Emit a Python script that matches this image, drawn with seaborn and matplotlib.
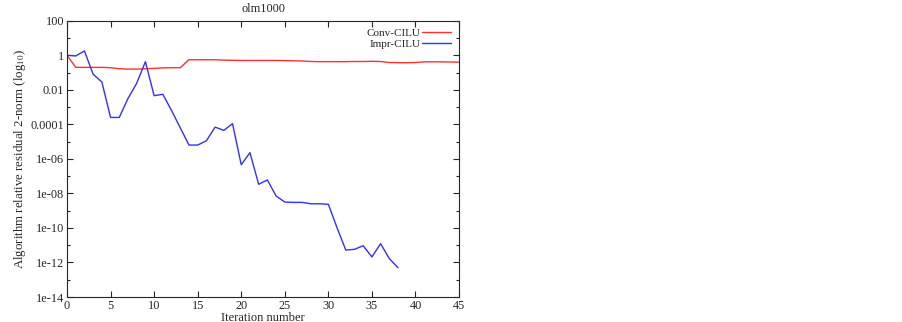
import matplotlib
matplotlib.use("Agg")
import matplotlib.pyplot as plt
import seaborn as sns
import pandas as pd
import numpy as np
from matplotlib.ticker import FixedLocator, FixedFormatter, NullFormatter

# log10 of the relative residual
iters_conv = list(range(0, 46))
conv_log = [0.0, -0.70, -0.70, -0.70, -0.70, -0.72, -0.78, -0.80, -0.80, -0.78,
            -0.76, -0.73, -0.72, -0.72, -0.26, -0.26, -0.26, -0.26, -0.28, -0.29,
            -0.30, -0.30, -0.30, -0.30, -0.30, -0.31, -0.32, -0.33, -0.36, -0.37,
            -0.37, -0.37, -0.37, -0.36, -0.36, -0.35, -0.36, -0.42, -0.43, -0.43,
            -0.42, -0.38, -0.38, -0.38, -0.39, -0.40]

iters_impr = list(range(0, 39))
impr_log = [0.0, -0.04, 0.25, -1.1, -1.55, -3.6, -3.6, -2.5, -1.62, -0.37,
            -2.34, -2.26, -3.2, -4.2, -5.2, -5.2, -4.95, -4.16, -4.35, -3.96,
            -6.34, -5.64, -7.47, -7.22, -8.15, -8.5, -8.52, -8.52, -8.6, -8.6,
            -8.63, -9.99, -11.28, -11.24, -11.03, -11.68, -10.91, -11.78, -12.3]

ytick_vals = [1e2, 1, 1e-2, 1e-4, 1e-6, 1e-8, 1e-10, 1e-12, 1e-14]
ytick_labels = ["100", "1", "0.01", "0.0001", "1e-06", "1e-08", "1e-10", "1e-12", "1e-14"]

df = pd.concat([
    pd.DataFrame({"iter": iters_conv, "res": 10.0 ** np.array(conv_log), "method": "Conv-CILU"}),
    pd.DataFrame({"iter": iters_impr, "res": 10.0 ** np.array(impr_log), "method": "Impr-CILU"}),
])

sns.set_style("ticks")
plt.rcParams["font.family"] = ["Liberation Serif", "DejaVu Serif"]
plt.rcParams["mathtext.fontset"] = "stix"

fig = plt.figure(figsize=(9.02, 3.22), dpi=100)
ax = fig.add_axes([0.0743, 0.0776, 0.4346, 0.858])

sns.lineplot(data=df, x="iter", y="res", hue="method",
             palette={"Conv-CILU": "#ff3030", "Impr-CILU": "#3030ff"},
             linewidth=1.0, ax=ax, legend=True)

ax.set_yscale("log")
ax.set_xlim(0, 45)
ax.set_ylim(1e-14, 1e2)
ax.set_xticks(range(0, 46, 5))
ax.yaxis.set_major_locator(FixedLocator(ytick_vals))
ax.yaxis.set_major_formatter(FixedFormatter(ytick_labels))
ax.yaxis.set_minor_locator(FixedLocator([10.0 ** k for k in range(-13, 2, 2)]))
ax.yaxis.set_minor_formatter(NullFormatter())
ax.tick_params(which="both", direction="in", top=True, right=True, labelsize=8.8,
               length=4, width=0.8, pad=2)
ax.tick_params(which="minor", length=2.5)
for s in ax.spines.values():
    s.set_linewidth(0.8)

ax.set_xlabel("Iteration number", fontsize=9, labelpad=0)
ax.set_ylabel("Algorithm relative residual 2-norm (log$_{10}$)", fontsize=9.3, labelpad=2)
ax.set_title("olm1000", fontsize=8.8, pad=6)

handles, labels = ax.get_legend_handles_labels()
ax.legend(handles, labels, loc="upper right", frameon=False, fontsize=8,
          markerfirst=False, handlelength=2.6, handletextpad=0.2,
          labelspacing=0.1, borderaxespad=0.3)

fig.savefig("out.png", dpi=100)
